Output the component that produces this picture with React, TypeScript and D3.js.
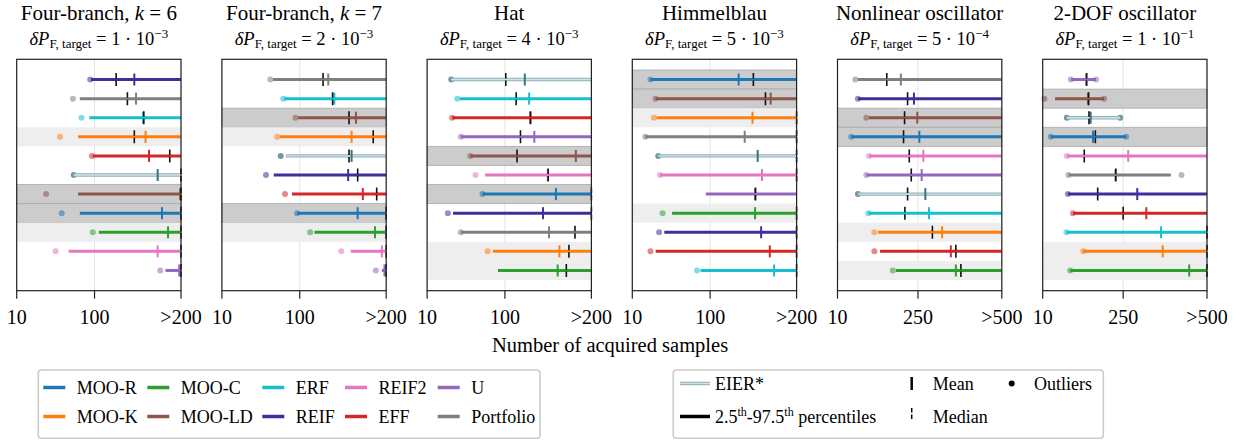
import React from "react";
import * as d3 from "d3";

// method colours
const methods = ["MOO-R", "MOO-K", "MOO-C", "MOO-LD", "ERF", "REIF", "REIF2", "EFF", "U", "Portfolio", "EIER*"];
const methodColors = ["#1f77b4", "#ff7f0e", "#2ca02c", "#8c564b", "#17becf", "#3f2f9c", "#e377c2", "#d62728", "#9467bd", "#7f7f7f", "#9fbfc6"];
const darkBandMethods = ["MOO-R", "MOO-LD"];
const lightBandMethods = ["MOO-K", "MOO-C"];

const legendCols = [["MOO-R", "MOO-K"], ["MOO-C", "MOO-LD"], ["ERF", "REIF"], ["REIF2", "EFF"], ["U", "Portfolio"]];

const titles = ["Four-branch, ", "Four-branch, ", "Hat", "Himmelblau", "Nonlinear oscillator", "2-DOF oscillator"];
const titleK = ["6", "7", "", "", "", ""];
const targetMant = ["1", "2", "4", "5", "5", "1"];
const targetExp = ["−3", "−3", "−3", "−3", "−4", "−1"];
const xMax = [200, 200, 200, 200, 500, 500];
const tickVals200 = [10, 100, 200];
const tickLabels200 = ["10", "100", ">200"];
const tickVals500 = [10, 250, 500];
const tickLabels500 = ["10", "250", ">500"];

// Four-branch k=6
const fb6Order = ["REIF", "Portfolio", "ERF", "MOO-K", "EFF", "EIER*", "MOO-LD", "MOO-R", "MOO-C", "REIF2", "U"];
const fb6Low = [96, 83, 94, 81, 98, 76, 81, 83, 105, 70, 182];
const fb6High = [200, 200, 200, 200, 200, 200, 200, 200, 200, 200, 200];
const fb6Mean = [146, 148, 156, 159, 163, 173, 199, 178, 185, 173, 198];
const fb6Median = [125, 138, 157, 146, 187, 200, 200, 200, 200, 200, 200];
const fb6Out = [[95], [75], [85], [60], [97], [76], [44], [62], [98], [55], [176]];

// Four-branch k=7
const fb7Order = ["Portfolio", "ERF", "MOO-LD", "MOO-K", "EIER*", "REIF", "EFF", "MOO-R", "MOO-C", "REIF2", "U"];
const fb7Low = [69, 82, 98, 77, 84, 70, 91, 97, 117, 159, 195];
const fb7High = [200, 200, 200, 200, 200, 200, 200, 200, 200, 200, 200];
const fb7Mean = [133, 140, 165, 160, 160, 156, 173, 167, 187, 195, 198];
const fb7Median = [127, 138, 157, 185, 157, 167, 189, 200, 200, 200, 200];
const fb7Out = [[66], [81], [95], [74], [78], [61], [83], [97], [112], [148], [188]];

// Hat
const hatOrder = ["EIER*", "ERF", "EFF", "U", "MOO-LD", "REIF2", "MOO-R", "REIF", "Portfolio", "MOO-K", "MOO-C"];
const hatLow = [38, 48, 39, 49, 60, 77, 74, 40, 49, 86, 92];
const hatHigh = [200, 200, 200, 200, 200, 200, 200, 200, 200, 200, 200];
const hatMean = [123, 128, 129.5, 134, 182, 149.5, 159, 144, 151, 163, 161];
const hatMedian = [101, 113, 129.5, 118, 114, 150, 200, 200, 181, 174, 171];
const hatOut = [[38], [45], [39], [49], [60], [66], [74], [34], [49], [80], []];

// Himmelblau
const himOrder = ["MOO-R", "MOO-LD", "MOO-K", "Portfolio", "EIER*", "REIF2", "U", "MOO-C", "REIF", "EFF", "ERF"];
const himLow = [31, 37, 38, 25, 40, 42, 95, 56, 47, 37, 89];
const himHigh = [200, 200, 200, 200, 200, 200, 200, 200, 200, 200, 200];
const himMean = [133, 170, 149, 140, 155, 160, 152, 152, 159, 169, 174];
const himMedian = [150, 164, 200, 200, 200, 200, 152.5, 200, 200, 200, 200];
const himOut = [[31], [37], [35], [25], [40], [42], [], [45], [41], [31], [85]];

// Nonlinear oscillator
const nloOrder = ["Portfolio", "REIF", "MOO-LD", "MOO-R", "REIF2", "U", "EIER*", "ERF", "MOO-K", "EFF", "MOO-C"];
const nloLow = [70, 71, 104, 51, 104, 96, 71, 102, 131, 137, 184];
const nloHigh = [500, 500, 500, 500, 500, 500, 500, 500, 500, 500, 500];
const nloMean = [199, 238, 248, 254, 266, 261, 272, 283, 322, 348, 363];
const nloMedian = [157, 219, 210, 207, 224, 230, 219, 211, 293, 363, 378];
const nloOut = [[63], [71], [96], [51], [104], [96], [71], [102], [120], [120], [175]];

// 2-DOF oscillator
const dofOrder = ["U", "MOO-LD", "EIER*", "MOO-R", "REIF2", "Portfolio", "REIF", "EFF", "ERF", "MOO-K", "MOO-C"];
const dofLow = [94, 47, 82, 34, 82, 87, 85, 100, 81, 131, 92];
const dofHigh = [169, 193, 241, 259, 500, 392, 500, 500, 500, 500, 500];
const dofMean = [140, 145, 153, 160, 265, 227, 292, 319, 363, 368, 447];
const dofMedian = [141, 147, 148, 167, 134, 228, 174, 250, 500, 500, 500];
const dofOut = [[94, 169], [15, 193], [82, 241], [34, 259], [82], [87, 424], [85], [100], [81], [131], [92]];

const panelData = [
  [fb6Order, fb6Low, fb6High, fb6Mean, fb6Median, fb6Out],
  [fb7Order, fb7Low, fb7High, fb7Mean, fb7Median, fb7Out],
  [hatOrder, hatLow, hatHigh, hatMean, hatMedian, hatOut],
  [himOrder, himLow, himHigh, himMean, himMedian, himOut],
  [nloOrder, nloLow, nloHigh, nloMean, nloMedian, nloOut],
  [dofOrder, dofLow, dofHigh, dofMean, dofMedian, dofOut],
] as any[];

const W = 1247;
const H = 441;
const FONT = "'Liberation Serif', 'Times New Roman', Times, serif";
const left0 = 16.7;
const step = 205.2;
const pw = 164.3;
const top = 59.3;
const bottom = 290.7;

const color = d3.scaleOrdinal<string, string>().domain(methods).range(methodColors);
const y = d3.scaleLinear().domain([-1.06, 11.06]).range([top, bottom]);

const EIER_MEAN = "#3a7281";
const EIER_DOT = "#5e8f9b";

function Panel({ idx }: { idx: number }) {
  const [order, low, high, mean, median, outl] = panelData[idx];
  const x0 = left0 + idx * step;
  const x = d3.scaleLinear().domain([10, xMax[idx]]).range([x0, x0 + pw]);
  const tv = xMax[idx] === 200 ? tickVals200 : tickVals500;
  const tl = xMax[idx] === 200 ? tickLabels200 : tickLabels500;
  const cx = x0 + pw / 2;
  const bandH = y(0.5) - y(-0.5);
  return (
    <g>
      {/* titles */}
      <text x={cx} y={19.5} textAnchor="middle" fontSize={21}>
        {titles[idx]}
        {titleK[idx] && (
          <>
            <tspan fontStyle="italic">k</tspan>
            <tspan> = {titleK[idx]}</tspan>
          </>
        )}
      </text>
      <text x={cx} y={44.5} textAnchor="middle" fontSize={18.5}>
        <tspan fontStyle="italic">δP</tspan>
        <tspan fontSize={13} dy={3.5}>F, target</tspan>
        <tspan dy={-3.5}> = {targetMant[idx]} · 10</tspan>
        <tspan fontSize={13} dy={-7}>{targetExp[idx]}</tspan>
      </text>
      {/* grid */}
      {tv.map((t: number) => (
        <line key={"g" + t} x1={x(t)} x2={x(t)} y1={top} y2={bottom} stroke="#e4e4e4" strokeWidth={1} />
      ))}
      {/* bands */}
      {order.map((m: string, i: number) =>
        darkBandMethods.includes(m) ? (
          <rect key={"b" + i} x={x0} y={y(i) - bandH / 2} width={pw} height={bandH} fill="#cccccc" stroke="#aaaaaa" strokeWidth={0.8} />
        ) : lightBandMethods.includes(m) ? (
          <rect key={"b" + i} x={x0} y={y(i) - bandH / 2} width={pw} height={bandH} fill="#eeeeee" />
        ) : null
      )}
      {/* rows */}
      {order.map((m: string, i: number) => {
        const c = color(m);
        const yy = y(i);
        const isE = m === "EIER*";
        return (
          <g key={"r" + i}>
            {outl[i].map((v: number, j: number) => (
              <circle key={j} cx={x(v)} cy={yy} r={3} fill={isE ? EIER_DOT : c} opacity={isE ? 0.9 : 0.55} />
            ))}
            {isE ? (
              <>
                <line x1={x(low[i])} x2={x(high[i])} y1={yy} y2={yy} stroke="#8db0b8" strokeWidth={3.4} />
                <line x1={x(low[i])} x2={x(high[i])} y1={yy} y2={yy} stroke="#d3e3e6" strokeWidth={1.4} />
              </>
            ) : (
              <line x1={x(low[i])} x2={x(high[i])} y1={yy} y2={yy} stroke={c} strokeWidth={3} />
            )}
            <line x1={x(mean[i])} x2={x(mean[i])} y1={yy - 6} y2={yy + 6} stroke={isE ? EIER_MEAN : c} strokeWidth={2} />
            <line x1={x(median[i])} x2={x(median[i])} y1={yy - 6.5} y2={yy + 6.5} stroke="#111" strokeWidth={1.6} strokeDasharray="5.5,2" />
          </g>
        );
      })}
      {/* frame */}
      <rect x={x0} y={top} width={pw} height={bottom - top} fill="none" stroke="#222" strokeWidth={1.2} />
      {/* ticks */}
      {tv.map((t: number, j: number) => (
        <g key={"t" + t}>
          <line x1={x(t)} x2={x(t)} y1={bottom} y2={bottom + 8} stroke="#222" strokeWidth={1.2} />
          <text x={x(t)} y={324} textAnchor="middle" fontSize={20}>{tl[j]}</text>
        </g>
      ))}
    </g>
  );
}

function Legends() {
  const colX = [43.3, 147.3, 262.3, 345, 437.7];
  const rowY = [387.5, 416.5];
  return (
    <g fontSize={18}>
      <rect x={38.3} y={370} width={501.7} height={68.3} rx={3} fill="white" stroke="#cccccc" strokeWidth={1.6} />
      {legendCols.map((col, ci) =>
        col.map((m, ri) => (
          <g key={m}>
            <line x1={colX[ci]} x2={colX[ci] + 22} y1={rowY[ri]} y2={rowY[ri]} stroke={color(m)} strokeWidth={3.5} />
            <text x={colX[ci] + 33.5} y={rowY[ri] + 6}>{m}</text>
          </g>
        ))
      )}
      <rect x={673.3} y={370} width={430} height={68.3} rx={3} fill="white" stroke="#cccccc" strokeWidth={1.6} />
      <line x1={680} x2={710} y1={383.5} y2={383.5} stroke="#8db0b8" strokeWidth={3.4} />
      <line x1={680} x2={710} y1={383.5} y2={383.5} stroke="#d3e3e6" strokeWidth={1.4} />
      <text x={715} y={389.5}>EIER*</text>
      <line x1={680} x2={710} y1={416.5} y2={416.5} stroke="#000" strokeWidth={3.5} />
      <text x={715} y={422.5}>
        2.5<tspan fontSize={12} dy={-7}>th</tspan>
        <tspan dy={7}>-97.5</tspan>
        <tspan fontSize={12} dy={-7}>th</tspan>
        <tspan dy={7}> percentiles</tspan>
      </text>
      <line x1={911.7} x2={911.7} y1={377} y2={390} stroke="#000" strokeWidth={2.5} />
      <text x={932.7} y={389.5}>Mean</text>
      <line x1={911.7} x2={911.7} y1={408} y2={421} stroke="#000" strokeWidth={1.5} strokeDasharray="4.5,2" />
      <text x={932.7} y={422.5}>Median</text>
      <circle cx={1011.7} cy={383.5} r={3} fill="#000" />
      <text x={1034} y={389.5}>Outliers</text>
    </g>
  );
}

export default function App() {
  return (
    <svg width={W} height={H} style={{ position: "absolute", left: 0, top: 0, background: "white", fontFamily: FONT }}>
      <rect width={W} height={H} fill="white" />
      {d3.range(6).map((i) => (
        <Panel key={i} idx={i} />
      ))}
      <text x={610} y={352} textAnchor="middle" fontSize={20.5}>Number of acquired samples</text>
      <Legends />
    </svg>
  );
}
